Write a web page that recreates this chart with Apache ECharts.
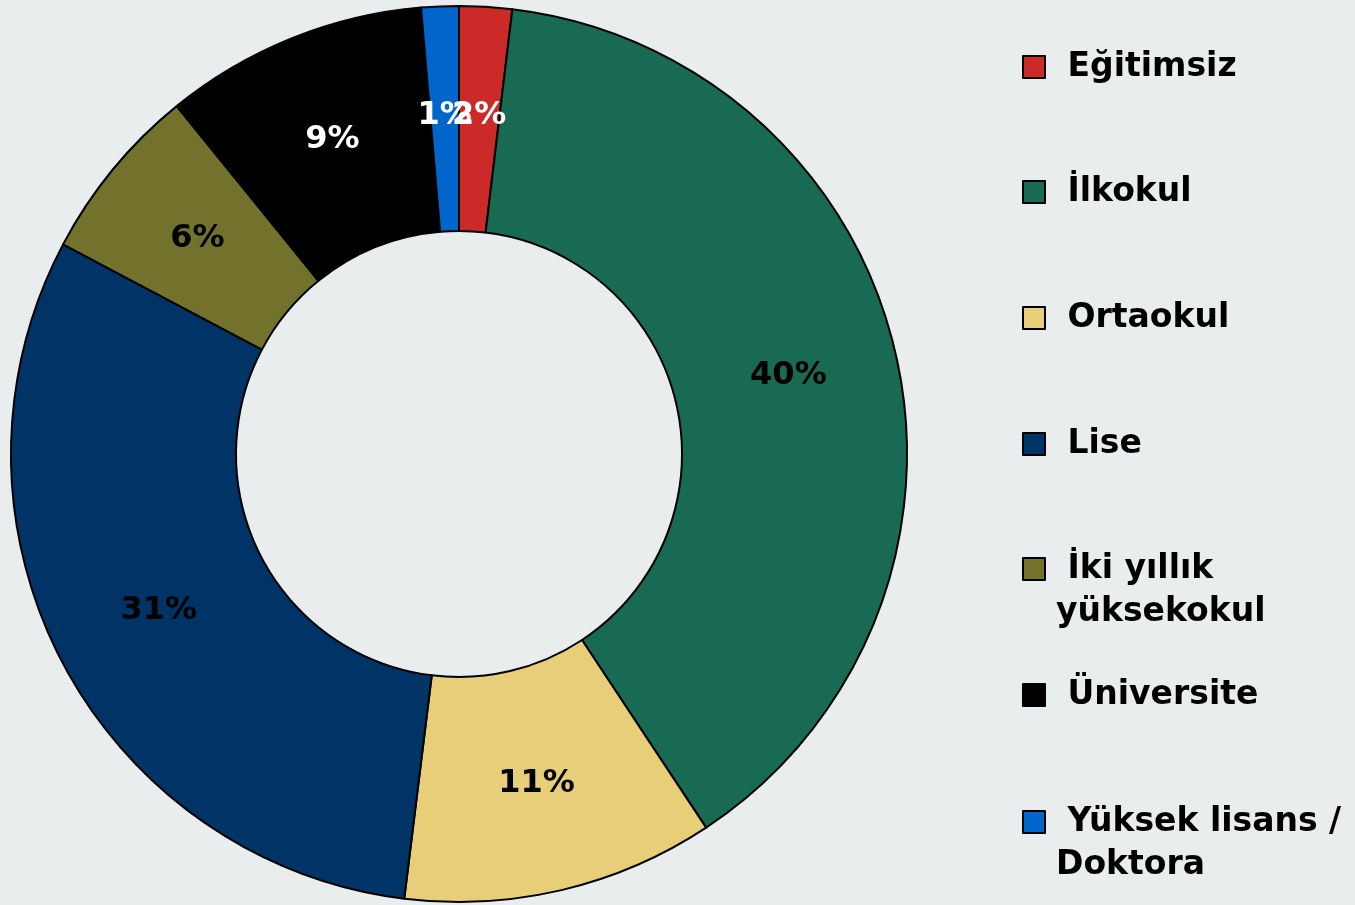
<!DOCTYPE html>
<html>
<head>
<meta charset="utf-8">
<script src="https://cdn.jsdelivr.net/npm/echarts@6/dist/echarts.min.js"></script>
<style>
  html, body { margin: 0; padding: 0; background: #e9edee; }
  #chart { width: 1355px; height: 905px; }
</style>
</head>
<body>
<div id="chart"></div>
<script>
// education levels, share of each slice and the printed labels
const categories = ['Eğitimsiz', 'İlkokul', 'Ortaokul', 'Lise', 'İki yıllık\nyüksekokul', 'Üniversite', 'Yüksek lisans /\nDoktora']
const shares = [1.9, 38.8, 11.25, 30.8, 6.4, 9.5, 1.35]
const percentLabels = ['2%', '40%', '11%', '31%', '6%', '9%', '1%']

const colors = ['#cc2929', '#186a52', '#e8ce78', '#003366', '#72722c', '#000000', '#0066cc']
const labelColors = ['#fff', '#000', '#000', '#000', '#000', '#fff', '#fff']
const legendRows = [67, 192, 318, 444, 569, 695, 822] // icon centre y of each legend entry

const font = 'DejaVu Sans'
const lh = 43
const chart = echarts.init(document.getElementById('chart'), null, { renderer: 'canvas' })

// one legend per entry so rows sit where the original put them;
// wrapped names get an empty line on top so the first line stays level with the icon
const legends = categories.map((name, i) => {
  const multi = name.indexOf('\n') >= 0
  return {
    data: [name],
    orient: 'vertical',
    left: 1022,
    top: legendRows[i] - (multi ? lh * 1.5 : lh / 2),
    padding: 0,
    itemWidth: 22,
    itemHeight: 22,
    icon: 'rect',
    selectedMode: false,
    formatter: n => (multi ? '\n' : '') + ' ' + n,
    textStyle: {
      fontFamily: font,
      fontWeight: 'bold',
      fontSize: 33,
      lineHeight: lh,
      color: '#000',
      padding: [0, 0, 0, 6]
    }
  }
})

chart.setOption({
  backgroundColor: '#e9edee',
  animation: false,
  legend: legends,
  series: [{
    type: 'pie',
    center: [459, 454],
    radius: [223, 448],
    startAngle: 90,
    clockwise: true,
    silent: true,
    avoidLabelOverlap: false,
    labelLayout: { hideOverlap: false },
    itemStyle: { borderColor: '#000', borderWidth: 2 },
    label: {
      show: true,
      position: 'inside',
      fontFamily: font,
      fontWeight: 'bold',
      fontSize: 32,
      formatter: p => percentLabels[p.dataIndex]
    },
    labelLine: { show: false },
    data: categories.map((name, i) => ({
      name,
      value: shares[i],
      itemStyle: { color: colors[i] },
      label: { color: labelColors[i] }
    }))
  }]
})
</script>
</body>
</html>
